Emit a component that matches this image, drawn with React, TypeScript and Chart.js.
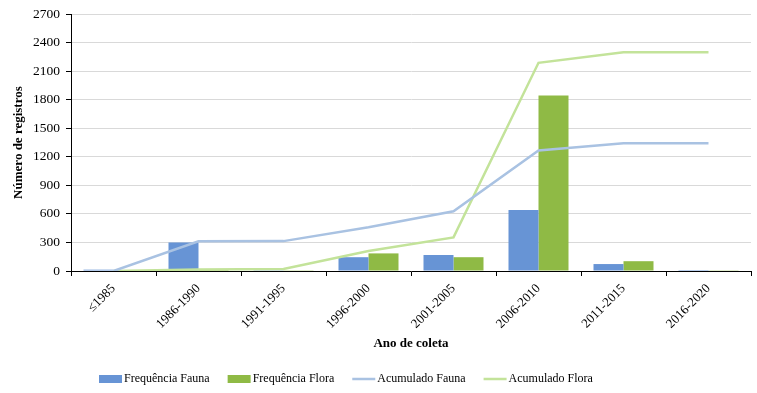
import React, { useEffect, useRef } from "react";
import { Chart, registerables } from "chart.js";

Chart.register(...registerables);

const categories = ["≤1985", "1986-1990", "1991-1995", "1996-2000", "2001-2005", "2006-2010", "2011-2015", "2016-2020"];
const freqFauna = [14, 300, 2, 145, 168, 640, 73, 10];
const freqFlora = [3, 17, 8, 185, 145, 1845, 103, 8];
const acumFauna = [0, 312, 314, 460, 628, 1266, 1342, 1343];
const acumFlora = [0, 15, 20, 210, 353, 2188, 2300, 2300];
const yTicks = [0, 300, 600, 900, 1200, 1500, 1800, 2100, 2400, 2700];

const FONT = "'Liberation Serif', 'Times New Roman', serif";
const C_FAUNA_BAR = "#6794d5";
const C_FLORA_BAR = "#8fba45";
const C_FAUNA_LINE = "#a9c2e2";
const C_FLORA_LINE = "#c3e39a";

const legendPlugin = {
  id: "customLegend",
  afterDraw(chart: any) {
    const ctx = chart.ctx as CanvasRenderingContext2D;
    const items = [
      { text: "Frequência Fauna", color: C_FAUNA_BAR, type: "rect" },
      { text: "Frequência Flora", color: C_FLORA_BAR, type: "rect" },
      { text: "Acumulado Fauna", color: C_FAUNA_LINE, type: "line" },
      { text: "Acumulado Flora", color: C_FLORA_LINE, type: "line" },
    ];
    ctx.save();
    ctx.font = `12px ${FONT}`;
    ctx.textBaseline = "middle";
    ctx.fillStyle = "#000";
    let x = 99;
    const y = 379;
    for (const it of items) {
      if (it.type === "rect") {
        ctx.fillStyle = it.color;
        ctx.fillRect(x, y - 4, 23, 8);
      } else {
        ctx.strokeStyle = it.color;
        ctx.lineWidth = 2.5;
        ctx.beginPath();
        ctx.moveTo(x, y);
        ctx.lineTo(x + 23, y);
        ctx.stroke();
      }
      ctx.fillStyle = "#000";
      ctx.fillText(it.text, x + 25, y);
      x += 25 + ctx.measureText(it.text).width + 18;
    }
    ctx.restore();
  },
};

export default function App() {
  const ref = useRef<HTMLCanvasElement>(null);
  useEffect(() => {
    document.body.style.margin = "0";
    const chart = new Chart(ref.current!, {
      type: "bar",
      data: {
        labels: categories,
        datasets: [
          {
            type: "line",
            label: "Acumulado Fauna",
            data: acumFauna,
            borderColor: C_FAUNA_LINE,
            backgroundColor: C_FAUNA_LINE,
            borderWidth: 2.5,
            pointRadius: 0,
            tension: 0,
            order: 0,
          } as any,
          {
            type: "line",
            label: "Acumulado Flora",
            data: acumFlora,
            borderColor: C_FLORA_LINE,
            backgroundColor: C_FLORA_LINE,
            borderWidth: 2.5,
            pointRadius: 0,
            tension: 0,
            order: 0,
          } as any,
          {
            label: "Frequência Fauna",
            data: freqFauna,
            backgroundColor: C_FAUNA_BAR,
            categoryPercentage: 0.706,
            barPercentage: 1,
            order: 1,
          },
          {
            label: "Frequência Flora",
            data: freqFlora,
            backgroundColor: C_FLORA_BAR,
            categoryPercentage: 0.706,
            barPercentage: 1,
            order: 1,
          },
        ],
      },
      options: {
        animation: false,
        responsive: false,
        maintainAspectRatio: false,
        layout: { padding: { left: 0, right: 6, top: 9, bottom: 38 } },
        plugins: { legend: { display: false }, tooltip: { enabled: false } },
        scales: {
          x: {
            grid: {
              offset: true,
              drawOnChartArea: false,
              drawTicks: true,
              tickLength: 5,
              tickColor: "#000",
            },
            border: { color: "#000", width: 1 },
            ticks: {
              minRotation: 45,
              maxRotation: 45,
              autoSkip: false,
              color: "#000",
              font: { family: FONT, size: 13 },
              padding: 5,
            },
            title: {
              display: true,
              text: "Ano de coleta",
              color: "#000",
              font: { family: FONT, size: 13, weight: "bold" },
              padding: { top: 4, bottom: 4 },
            },
            afterFit(scale: any) {
              scale.height = 84;
            },
          },
          y: {
            min: 0,
            max: 2700,
            afterBuildTicks(scale: any) {
              scale.ticks = yTicks.map((v) => ({ value: v }));
            },
            grid: {
              color: "#d9d9d9",
              drawTicks: true,
              tickLength: 5,
              tickColor: "#000",
            },
            border: { color: "#000", width: 1 },
            ticks: {
              color: "#000",
              font: { family: FONT, size: 13.5 },
              padding: 6,
              callback: (v: any) => String(v),
            },
            title: {
              display: true,
              text: "Número de registros",
              color: "#000",
              font: { family: FONT, size: 13, weight: "bold" },
              padding: { top: 11, bottom: 0 },
            },
            afterFit(scale: any) {
              scale.width = 71;
            },
          },
        },
      },
      plugins: [legendPlugin],
    });
    return () => chart.destroy();
  }, []);
  return (
    <div style={{ width: 757, height: 393 }}>
      <canvas ref={ref} width={757} height={393} style={{ display: "block", width: 757, height: 393 }} />
    </div>
  );
}
